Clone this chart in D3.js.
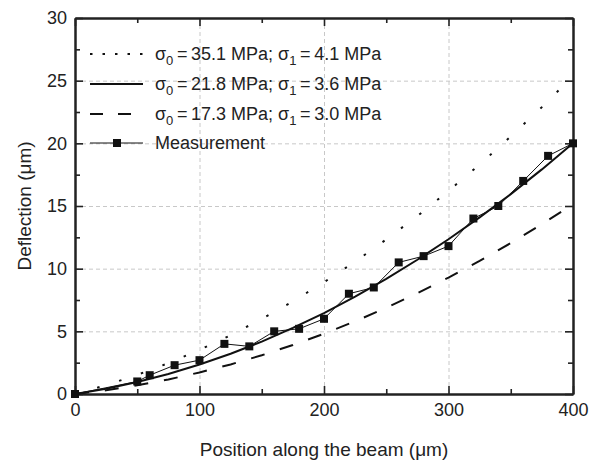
<!DOCTYPE html>
<html>
<head>
<meta charset="utf-8">
<script src="https://cdn.jsdelivr.net/npm/d3@7"></script>
<style>
  body { margin: 0; background: #fff; }
  svg text { font-family: "Liberation Sans", Arial, Helvetica, sans-serif; fill: #222; }
  .grid line { stroke: #c8c8c8; stroke-dasharray: 4,3; stroke-width: 1; }
  .grid path { display: none; }
  .ax path { stroke: #222; stroke-width: 2; }
  .ax line { stroke: #222; stroke-width: 1.6; }
</style>
</head>
<body>
<div id="chart"></div>
<script>
// ---------------- data ----------------
var xPos = [0, 25, 50, 75, 100, 125, 150, 175, 200, 225, 250, 275, 300, 325, 350, 375, 400];
var fitHigh = [0, 0.70, 1.53, 2.46, 3.52, 4.69, 5.99, 7.39, 8.92, 10.56, 12.33, 14.20, 16.20, 18.31, 20.55, 22.89, 25.36];   // sigma0 = 35.1
var fitMid  = [0, 0.42, 0.95, 1.59, 2.35, 3.21, 4.18, 5.27, 6.46, 7.77, 9.18, 10.71, 12.35, 14.09, 15.95, 17.92, 20.00];   // sigma0 = 21.8
var fitLow  = [0, 0.30, 0.69, 1.16, 1.72, 2.36, 3.09, 3.91, 4.81, 5.80, 6.88, 8.04, 9.29, 10.62, 12.04, 13.55, 15.14];    // sigma0 = 17.3
var measX = [0, 50, 60, 80, 100, 120, 140, 160, 180, 200, 220, 240, 260, 280, 300, 320, 340, 360, 380, 400];
var measY = [0, 1.0, 1.5, 2.3, 2.7, 4.0, 3.8, 5.0, 5.2, 6.0, 8.0, 8.5, 10.5, 11.0, 11.8, 14.0, 15.0, 17.0, 19.0, 20.0];
var xTicks = [0, 100, 200, 300, 400];
var xMinor = [50, 150, 250, 350];
var yTicks = [0, 5, 10, 15, 20, 25, 30];
var yMinor = [2.5, 7.5, 12.5, 17.5, 22.5, 27.5];
var legendItems = [
  {s0: "35.1", s1: "4.1", style: "dot"},
  {s0: "21.8", s1: "3.6", style: "solid"},
  {s0: "17.3", s1: "3.0", style: "dash"},
  {label: "Measurement", style: "meas"}
];

var W = 592, H = 464;
var margin = {top: 18, right: 19, bottom: 70, left: 75};
var width = W - margin.left - margin.right,
    height = H - margin.top - margin.bottom;

var svgRoot = d3.select("#chart").append("svg").attr("width", W).attr("height", H);
var svg = svgRoot.append("g").attr("transform", "translate(" + margin.left + "," + margin.top + ")");

var xScale = d3.scaleLinear().domain([0, 400]).range([0, width]);
var yScale = d3.scaleLinear().domain([0, 30]).range([height, 0]);

// grid
svg.append("g").attr("class", "grid")
  .call(d3.axisBottom(xScale).tickValues([100, 200, 300]).tickSize(height).tickFormat(""));
svg.append("g").attr("class", "grid")
  .call(d3.axisLeft(yScale).tickValues([5, 10, 15, 20, 25]).tickSize(-width).tickFormat(""));

// axes with inward ticks, mirrored on top / right
function frameAxis(axisFn, scale, major, minor, transform, labels) {
  var g = svg.append("g").attr("class", "ax").attr("transform", transform);
  g.call(axisFn(scale).tickValues(minor).tickSizeInner(-5).tickSizeOuter(0).tickFormat(""));
  var g2 = svg.append("g").attr("class", "ax").attr("transform", transform);
  g2.call(axisFn(scale).tickValues(major).tickSizeInner(-8).tickSizeOuter(0)
    .tickPadding(labels ? 16 : 0).tickFormat(labels ? d3.format("d") : ""));
  return g2;
}
var gx = frameAxis(d3.axisBottom, xScale, xTicks, xMinor, "translate(0," + height + ")", true);
gx.selectAll("text").attr("font-size", 18).attr("dy", "0.71em").attr("y", 9);
frameAxis(d3.axisTop, xScale, xTicks, xMinor, "translate(0,0)", false);
var gy = frameAxis(d3.axisLeft, yScale, yTicks, yMinor, "translate(0,0)", true);
gy.selectAll("text").attr("font-size", 18).attr("x", -8);
frameAxis(d3.axisRight, yScale, yTicks, yMinor, "translate(" + width + ",0)", false);
svg.selectAll(".ax text").attr("fill", "#222").style("font-family", "'Liberation Sans', Arial, sans-serif");

// curves
var line = d3.line().x(function(d) { return xScale(d[0]); }).y(function(d) { return yScale(d[1]); });
function pairs(xs, ys) { return xs.map(function(x, i) { return [x, ys[i]]; }); }

svg.append("path").datum(pairs(xPos, fitHigh)).attr("d", line)
  .attr("fill", "none").attr("stroke", "#111").attr("stroke-width", 2)
  .attr("stroke-dasharray", "2.5,20.5");
svg.append("path").datum(pairs(xPos, fitMid)).attr("d", line)
  .attr("fill", "none").attr("stroke", "#111").attr("stroke-width", 2);
svg.append("path").datum(pairs(xPos, fitLow)).attr("d", line)
  .attr("fill", "none").attr("stroke", "#111").attr("stroke-width", 2)
  .attr("stroke-dasharray", "14,16");

var meas = pairs(measX, measY);
svg.append("path").datum(meas).attr("d", line)
  .attr("fill", "none").attr("stroke", "#111").attr("stroke-width", 1);
svg.selectAll(".meas").data(meas).enter().append("rect")
  .attr("class", "meas")
  .attr("x", function(d) { return xScale(d[0]) - 4; })
  .attr("y", function(d) { return yScale(d[1]) - 4; })
  .attr("width", 8).attr("height", 8).attr("fill", "#111");

// legend
var legend = svgRoot.append("g");
var rowY = [54, 84, 114, 143];
legendItems.forEach(function(item, i) {
  var y = rowY[i];
  var ln = legend.append("line").attr("x1", 90).attr("x2", 143).attr("y1", y).attr("y2", y)
    .attr("stroke", "#111");
  if (item.style === "dot") ln.attr("stroke-width", 2).attr("stroke-dasharray", "2.5,10");
  else if (item.style === "dash") ln.attr("stroke-width", 2).attr("stroke-dasharray", "13,15");
  else if (item.style === "solid") ln.attr("stroke-width", 2);
  else {
    ln.attr("stroke-width", 1);
    legend.append("rect").attr("x", 113).attr("y", y - 4).attr("width", 8).attr("height", 8).attr("fill", "#111");
  }
  var t = legend.append("text").attr("x", 155).attr("y", y + 6).attr("font-size", 18);
  if (item.label) { t.text(item.label); return; }
  t.append("tspan").text("\u03c3");
  t.append("tspan").attr("font-size", 13).attr("dy", 5).text("0");
  t.append("tspan").attr("dy", -5).text("\u2009=\u2009" + item.s0 + " MPa; \u03c3");
  t.append("tspan").attr("font-size", 13).attr("dy", 5).text("1");
  t.append("tspan").attr("dy", -5).text("\u2009=\u2009" + item.s1 + " MPa");
});

// axis titles
svgRoot.append("text").attr("x", margin.left + width / 2).attr("y", 456)
  .attr("text-anchor", "middle").attr("font-size", 19).text("Position along the beam (\u03bcm)");
svgRoot.append("text").attr("transform", "translate(31," + (margin.top + height / 2) + ") rotate(-90)")
  .attr("text-anchor", "middle").attr("font-size", 19).text("Deflection (\u03bcm)");
</script>
</body>
</html>
